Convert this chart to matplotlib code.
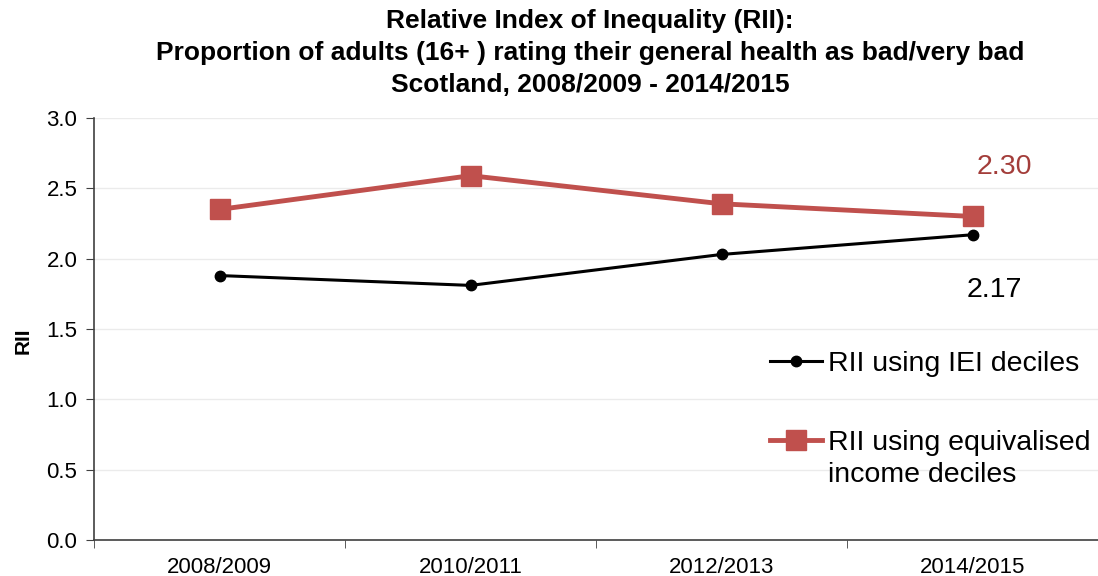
import matplotlib
matplotlib.use("Agg")
import matplotlib.pyplot as plt
from matplotlib.ticker import FixedLocator, NullFormatter

plt.rcParams['font.family'] = ['Liberation Sans', 'DejaVu Sans']

years = ["2008/2009", "2010/2011", "2012/2013", "2014/2015"]
rii_iei = [1.88, 1.81, 2.03, 2.17]
rii_income = [2.35, 2.59, 2.39, 2.30]
label_iei = "RII using IEI deciles"
label_income_line1 = "RII using equivalised"
label_income_line2 = "income deciles"
title = ("Relative Index of Inequality (RII):\n"
         "Proportion of adults (16+ ) rating their general health as bad/very bad\n"
         "Scotland, 2008/2009 - 2014/2015")

W, H = 1098, 576
fig = plt.figure(figsize=(W / 100, H / 100), dpi=100)
ax = fig.add_axes([94 / W, 36 / H, 1004 / W, 422 / H])

x = list(range(len(years)))
ax.plot(x, rii_iei, color='black', lw=2.2, marker='o', ms=7.5, label=label_iei, zorder=3)
ax.plot(x, rii_income, color='#C0504D', lw=3.5, marker='s', ms=14, label=label_income_line1, zorder=3)

ax.set_xlim(-0.5, len(years) - 0.5)
ax.set_ylim(0, 3.0)
yt = [0, 0.5, 1.0, 1.5, 2.0, 2.5, 3.0]
ax.set_yticks(yt)
ax.set_yticklabels([f"{v:.1f}" for v in yt])
ax.set_xticks(x)
ax.set_xticklabels(years)
ax.xaxis.set_minor_locator(FixedLocator([i - 0.5 for i in range(len(years) + 1)]))
ax.xaxis.set_minor_formatter(NullFormatter())
ax.tick_params(axis='x', which='major', length=0, labelsize=16, pad=12)
ax.tick_params(axis='x', which='minor', length=6, color='#404040', direction='out')
ax.tick_params(axis='y', length=6, color='#404040', labelsize=16, pad=6)

ax.grid(axis='y', color='#EBEBEB', lw=1)
ax.set_axisbelow(True)
for s in ['top', 'right']:
    ax.spines[s].set_visible(False)
for s in ['left', 'bottom']:
    ax.spines[s].set_color('#404040')
    ax.spines[s].set_linewidth(1.2)

ax.set_ylabel("RII", fontsize=15, fontweight='bold')
ax.yaxis.set_label_coords(-(94 - 33) / 1004, (540 - 341) / 422)

ax.text(3.125, 2.652, f"{rii_income[-1]:.2f}", color='#A33D3A', fontsize=20.5, ha='center', va='center')
ax.text(3.086, 1.777, f"{rii_iei[-1]:.2f}", color='black', fontsize=20.5, ha='center', va='center')

leg = ax.legend(loc='upper left', bbox_to_anchor=((770 - 94) / 1004, 0.448), frameon=False,
                fontsize=20.5, handlelength=1.83, handletextpad=0.21, labelspacing=1.86,
                borderaxespad=0, borderpad=0)
fig.text(828 / W, 1 - 475 / H, label_income_line2, fontsize=20.5, ha='left', va='center')

fig.text(590 / W, 1 - 53 / H, title, fontsize=19, fontweight='bold', ha='center', va='center',
         linespacing=1.42, multialignment='center')

fig.savefig("out.png", dpi=100)
